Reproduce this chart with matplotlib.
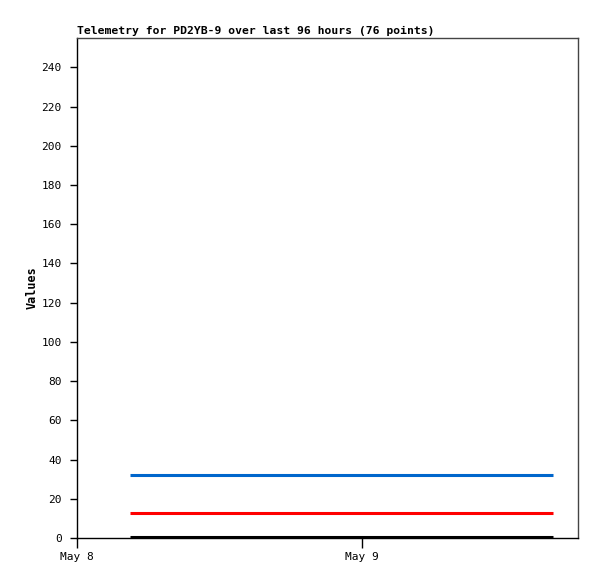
import matplotlib
matplotlib.use('Agg')
import matplotlib.pyplot as plt
import matplotlib.dates as mdates
import numpy as np

# --- Data ---
times = np.array(['2024-05-08T04:30', '2024-05-09T16:05'], dtype='datetime64[m]')
blue_vals = [32, 32]
red_vals = [13, 13]
black_vals = [0.5, 0.5]

title = 'Telemetry for PD2YB-9 over last 96 hours (76 points)'
x_start = np.datetime64('2024-05-08T00:00')
x_end = np.datetime64('2024-05-09T18:12')
y_max = 255

plt.rcParams['font.family'] = 'DejaVu Sans Mono'

fig = plt.figure(figsize=(5.97, 5.79), dpi=100)
ax = fig.add_axes([77 / 597, 1 - 538 / 579, (578 - 77) / 597, (538 - 38) / 579])

t = times.astype('datetime64[s]').astype(object)
ax.plot(t, blue_vals, color='#0066cc', lw=2.2, solid_capstyle='butt')
ax.plot(t, red_vals, color='#ff0000', lw=2.2, solid_capstyle='butt')
ax.plot(t, black_vals, color='#000000', lw=2.2, solid_capstyle='butt')

ax.set_xlim(x_start.astype('datetime64[s]').astype(object), x_end.astype('datetime64[s]').astype(object))
ax.set_ylim(0, y_max)
ax.set_yticks(np.arange(0, 241, 20))
ax.xaxis.set_major_locator(mdates.DayLocator())
ax.xaxis.set_major_formatter(mdates.DateFormatter('%b %-d'))

ax.tick_params(axis='y', direction='out', length=5, width=1, labelsize=8, pad=6)
ax.tick_params(axis='x', direction='out', length=7, width=1, labelsize=8, pad=3)

for side in ['left', 'bottom']:
    ax.spines[side].set_color('black')
    ax.spines[side].set_linewidth(1)
for side in ['top', 'right']:
    ax.spines[side].set_color('#444444')
    ax.spines[side].set_linewidth(1)

ax.set_ylabel('Values', fontsize=8.5, fontweight='bold', labelpad=2)
ax.set_title(title, fontsize=8.2, fontweight='bold', loc='left', pad=3)

fig.savefig('out.png', dpi=100)
